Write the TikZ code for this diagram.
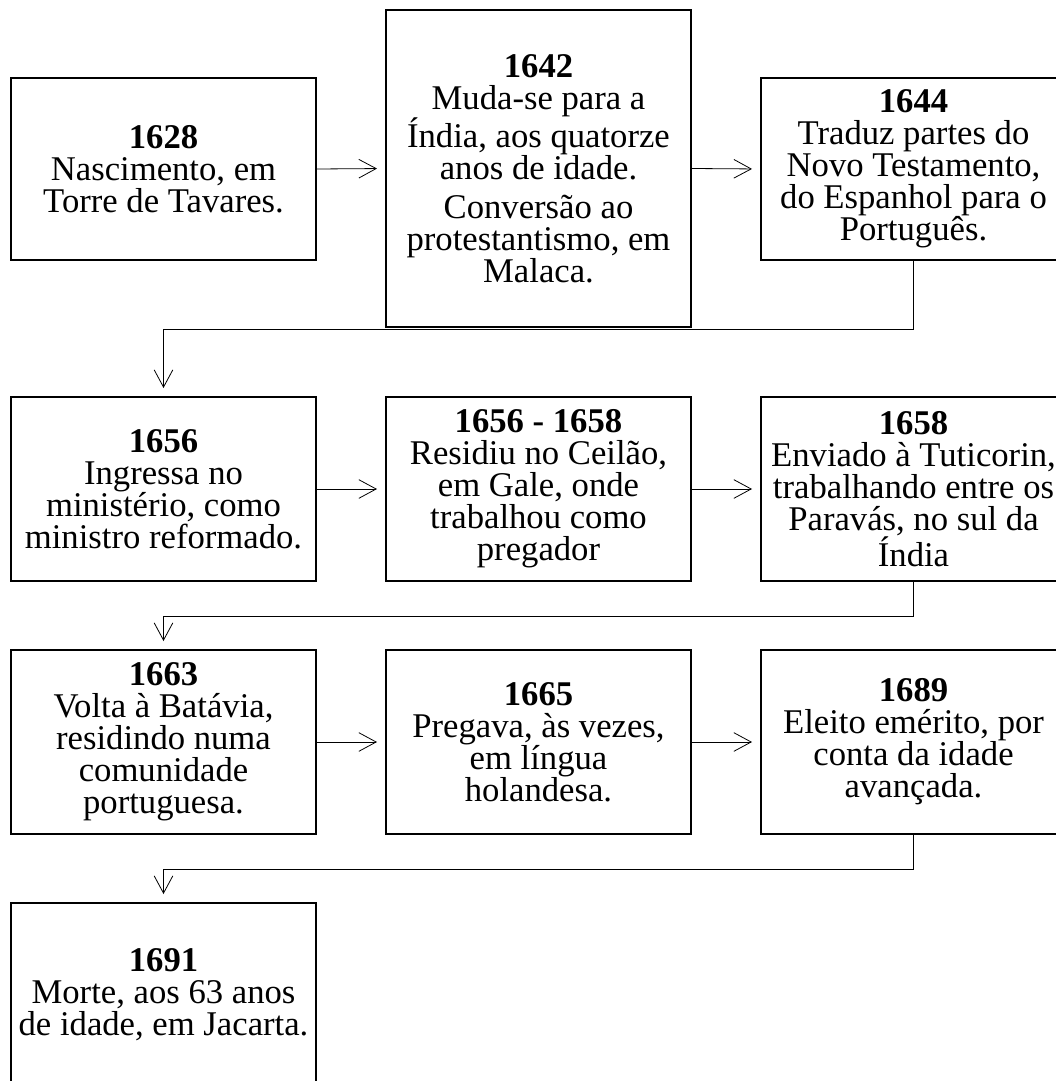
\documentclass[tikz,border=0pt]{standalone}
\usepackage{fontspec}
\setmainfont{Liberation Serif}
\usetikzlibrary{arrows.meta}

\begin{document}
\begin{tikzpicture}[x=0.75pt, y=-0.75pt,
    every node/.style={font=\fontsize{26}{24}\selectfont},
    evento/.style={draw, line width=1.5pt, align=center,
      minimum width=228.75pt, minimum height=138pt, inner sep=1pt},
    seta/.style={line width=0.6pt,
      -{Straight Barb[length=13pt,width=14pt,line width=0.6pt]},
      shorten >=6pt}]
    % Area visivel (a ultima caixa fica cortada em baixo)
    \clip (0,0) rectangle (1056,1081);

    % Primeira linha
    \node[evento, minimum height=136.5pt] (n1628) at (163.5,169)
      {\textbf{1628}\\Nascimento, em\\Torre de Tavares.};
    \node[evento, minimum height=237.75pt] (n1642) at (538.5,168.5)
      {\textbf{1642}\\Muda-se para a\\Índia, aos quatorze\\anos de idade.\\[5pt]
       Conversão ao\\protestantismo, em\\Malaca.};
    \node[evento, minimum height=136.5pt] (n1644) at (913.5,169)
      {\textbf{1644}\\Traduz partes do\\Novo Testamento,\\do Espanhol para o\\Português.};

    % Segunda linha
    \node[evento] (n1656) at (163.5,489)
      {\textbf{1656}\\Ingressa no\\ministério, como\\ministro reformado.};
    \node[evento] (n1658a) at (538.5,489)
      {\textbf{1656 - 1658}\\Residiu no Ceilão,\\em Gale, onde\\trabalhou como\\pregador};
    \node[evento] (n1658) at (913.5,489)
      {\textbf{1658}\\Enviado à Tuticorin,\\trabalhando entre os\\Paravás, no sul da\\Índia};

    % Terceira linha
    \node[evento] (n1663) at (163.5,742)
      {\textbf{1663}\\Volta à Batávia,\\residindo numa\\comunidade\\portuguesa.};
    \node[evento] (n1665) at (538.5,742)
      {\textbf{1665}\\Pregava, às vezes,\\em língua\\holandesa.};
    \node[evento] (n1689) at (913.5,742)
      {\textbf{1689}\\Eleito emérito, por\\conta da idade\\avançada.};

    % Quarta linha
    \node[evento] (n1691) at (163.5,995)
      {\textbf{1691}\\Morte, aos 63 anos\\de idade, em Jacarta.};

    % Ligacoes na mesma linha
    \draw[seta] (n1628.east) -- (n1642.west);
    \draw[seta] (n1642.east) -- (n1644.west);
    \draw[seta] (n1656.east) -- (n1658a.west);
    \draw[seta] (n1658a.east) -- (n1658.west);
    \draw[seta] (n1663.east) -- (n1665.west);
    \draw[seta] (n1665.east) -- (n1689.west);

    % Ligacoes entre linhas
    \draw[seta] (n1644.south) -- ++(0,68) -| (n1656.north);
    \draw[seta] (n1658.south) -- ++(0,34) -| (n1663.north);
    \draw[seta] (n1689.south) -- ++(0,34) -| (n1691.north);
\end{tikzpicture}
\end{document}
